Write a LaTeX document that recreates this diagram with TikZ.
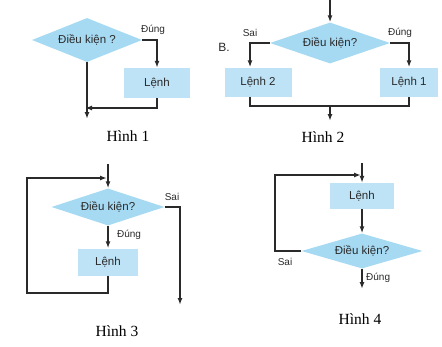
\documentclass[tikz,border=0pt]{standalone}
\usepackage{fontspec}
\setmainfont{Liberation Serif}
\newfontfamily\lsans{Liberation Sans}
\usetikzlibrary{shapes.geometric,arrows.meta}
\definecolor{dfill}{HTML}{A6D9F2}
\definecolor{bfill}{HTML}{BEE3F6}
\definecolor{lncol}{HTML}{2A2A2A}
\begin{document}
\begin{tikzpicture}[x=1pt,y=-1pt,
  cond/.style={diamond,aspect=2.5,inner sep=0pt,fill=dfill,draw=none,text=lncol,font=\lsans\fontsize{11.5}{13}\selectfont},
  cmd/.style={rectangle,inner sep=0pt,fill=bfill,draw=none,text=lncol,font=\lsans\fontsize{11.5}{13}\selectfont},
  lab/.style={inner sep=0pt,font=\lsans\fontsize{10}{12}\selectfont,text=lncol},
  figcap/.style={inner sep=0pt,font=\fontsize{15.5}{17}\selectfont},
  ar/.style={draw=lncol,line width=1.4pt,-{Latex[length=7pt,width=5pt]}},
  plainline/.style={draw=lncol,line width=1.4pt}]
\useasboundingbox (0,0) rectangle (442,346);
% ---------- Hinh 1
\node[cond,minimum width=110pt,minimum height=44pt] (d1) at (87,40) {Điều kiện ?};
\node[cmd,minimum width=66pt,minimum height=30pt] (l1) at (157,83) {Lệnh};
\node[lab] (t1) at (153,30) {Đúng};
\coordinate (m1) at (85,108);
\coordinate (e1) at (87,119);
\draw[ar] (d1.east) -| (l1.north);
\draw[ar] (l1.south) |- (m1);
\draw[ar] (d1.south) -- (e1);
\node[figcap] (h1) at (128,136) {Hình 1};
% ---------- Hinh 2
\coordinate (s2) at (330,0);
\node[cond,minimum width=120pt,minimum height=41pt] (d2) at (330,43) {Điều kiện?};
\node[cmd,minimum width=67pt,minimum height=29pt] (l22) at (258,82) {Lệnh 2};
\node[cmd,minimum width=58pt,minimum height=29pt] (l21) at (409,82) {Lệnh 1};
\node[lab] (sai2) at (250,33) {Sai};
\node[lab] (dung2) at (400,33) {Đúng};
\node[inner sep=0pt,font=\lsans\fontsize{12}{14}\selectfont,text=lncol] (b2l) at (224,47) {B.};
\coordinate (j2) at (330,106);
\coordinate (e2) at (330,121);
\draw[ar] (s2) -- (d2.north);
\draw[ar] (d2.west) -| ([xshift=-8pt]l22.north);
\draw[ar] (d2.east) -| (l21.north);
\draw[plainline] ([xshift=-8pt]l22.south) |- (j2) -| (l21.south);
\draw[ar] (j2) -- (e2);
\node[figcap] (h2) at (323,137) {Hình 2};
% ---------- Hinh 3
\coordinate (s3) at (108,164);
\node[cond,minimum width=113pt,minimum height=37pt] (d3) at (108,207) {Điều kiện?};
\node[cmd,minimum width=60pt,minimum height=27pt] (l3) at (108,262) {Lệnh};
\coordinate (c3a) at (27,293);
\coordinate (c3b) at (27,178);
\coordinate (c3c) at (107,178);
\coordinate (r3) at (180,207);
\coordinate (e3) at (180,305);
\draw[ar] (s3) -- (d3.north);
\draw[ar] (l3.south) |- (c3a) -- (c3b) -- (c3c);
\draw[ar] (d3.east) -- (r3) -- (e3);
\draw[ar] (d3.south) -- (l3.north);
\node[lab] (sai3) at (172,197) {Sai};
\node[lab] (dung3) at (129,235) {Đúng};
\node[figcap] (h3) at (117,331) {Hình 3};
% ---------- Hinh 4
\coordinate (s4) at (362,163);
\node[cmd,minimum width=64pt,minimum height=26pt] (l4) at (362,196) {Lệnh};
\node[cond,minimum width=121pt,minimum height=35pt] (d4) at (362,251) {Điều kiện?};
\coordinate (c4a) at (275,251);
\coordinate (c4b) at (275,175);
\coordinate (c4c) at (361,175);
\coordinate (e4) at (362,289);
\draw[ar] (s4) -- (l4.north);
\draw[ar] (l4.south) -- (d4.north);
\draw[ar] (d4.west) -- (c4a) -- (c4b) -- (c4c);
\draw[ar] (d4.south) -- (e4);
\node[lab] (sai4) at (285,262) {Sai};
\node[lab,anchor=west] (dung4) at (366,278) {Đúng};
\node[figcap] (h4) at (360,319) {Hình 4};
\end{tikzpicture}
\end{document}
